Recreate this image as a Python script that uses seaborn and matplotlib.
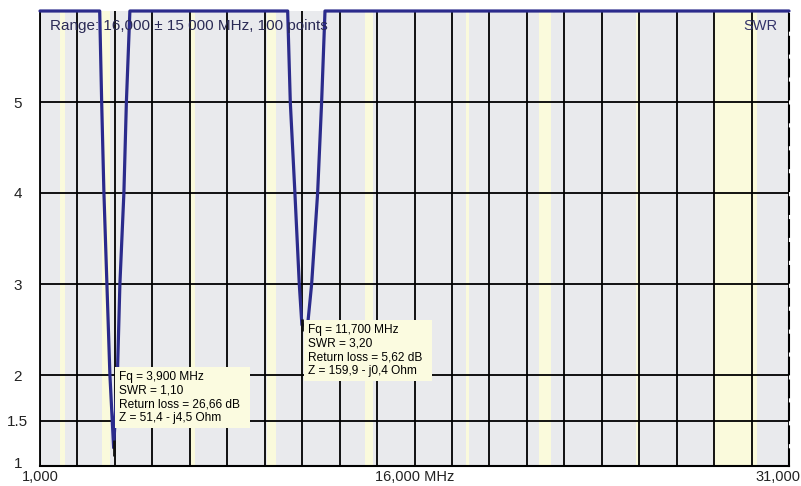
import matplotlib
matplotlib.use("Agg")
import matplotlib.pyplot as plt
import matplotlib.transforms as mtransforms
import numpy as np
import pandas as pd
import seaborn as sns

# ---- data (frequency values as shown on the chart's "MHz" axis) ----
freq = [1000, 3390, 3470, 3560, 3680, 3800, 3950, 4100, 4200, 4360, 4460, 4600,
        10920, 11025, 11210, 11385, 11490, 11720, 11880, 12120, 12280, 12415, 31000]
swr = [6.0, 6.0, 5.0, 4.0, 3.0, 2.0, 1.2, 2.0, 3.0, 4.0, 5.0, 6.0,
       6.0, 5.0, 4.0, 3.0, 2.55, 2.55, 3.0, 4.0, 5.0, 6.0, 6.0]

band_start = [1810, 3500, 7000, 10100, 14000, 18068, 21000, 24890, 28000]
band_end = [2000, 3800, 7200, 10450, 14350, 18168, 21450, 24990, 29700]

y_ticks = [1, 1.5, 2, 3, 4, 5]
y_ticklabels = ["1", "1.5", "2", "3", "4", "5"]
x_ticks = [1000, 16000, 31000]
x_ticklabels = ["1,000", "16,000 MHz", "31,000"]
x_grid_step = 1500

marker1 = ["Fq = 3,900 MHz", "SWR = 1,10", "Return loss = 26,66 dB", "Z = 51,4 - j4,5 Ohm"]
marker2 = ["Fq = 11,700 MHz", "SWR = 3,20", "Return loss = 5,62 dB", "Z = 159,9 - j0,4 Ohm"]
marker1_anchor = (4164, 2.045)
marker2_anchor = (11733, 2.565)

title_text = "Range: 16,000 \u00b1 15 000 MHz, 100 points"
corner_text = "SWR"

# ---- style ----
sns.set_style("white")
plt.rcParams["font.family"] = ["Liberation Sans", "DejaVu Sans"]

W, H = 801, 486
fig = plt.figure(figsize=(W / 100, H / 100), dpi=100)
ax = fig.add_axes([40 / W, 20 / H, (789 - 40) / W, (466 - 11) / H])
ax.set_facecolor("#e9eaed")

for s, e in zip(band_start, band_end):
    ax.axvspan(s, e, color="#fafadc", zorder=0.5, lw=0)

ax.set_xlim(1000, 31000)
ax.set_ylim(1, 6)

ax.set_xticks(x_ticks)
ax.set_xticklabels(x_ticklabels)
ax.set_xticks(np.arange(1000, 31001, x_grid_step), minor=True)
ax.set_yticks(y_ticks)
ax.set_yticklabels(y_ticklabels)

ax.grid(True, which="both", axis="x", color="black", lw=1.3, zorder=1)
ax.grid(True, which="major", axis="y", color="black", lw=1.3, zorder=1)
ax.set_axisbelow(True)

ax.tick_params(axis="both", which="both", length=0)
ax.tick_params(axis="y", pad=16, labelsize=11, labelcolor="#222222")
ax.tick_params(axis="x", pad=3, labelsize=10.5, labelcolor="#222222")
for lab in ax.get_yticklabels():
    lab.set_horizontalalignment("center")
ylabs = ax.get_yticklabels()
ylabs[0].set_transform(ylabs[0].get_transform() +
                       mtransforms.ScaledTranslation(0, 4 / 100, fig.dpi_scale_trans))
xlabs = ax.get_xticklabels()
xlabs[-1].set_transform(xlabs[-1].get_transform() +
                        mtransforms.ScaledTranslation(-11 / 100, 0, fig.dpi_scale_trans))

ax.spines["top"].set_visible(False)
ax.spines["left"].set_color("black")
ax.spines["left"].set_linewidth(1.3)
ax.spines["bottom"].set_color("black")
ax.spines["bottom"].set_linewidth(1.5)
ax.spines["right"].set_color("black")
ax.spines["right"].set_linewidth(1.5)
ax.spines["right"].set_linestyle((0, (8, 3)))

df = pd.DataFrame({"freq": freq, "swr": swr})
sns.lineplot(data=df, x="freq", y="swr", ax=ax, sort=False, estimator=None,
             color="#2b2b8c", lw=2.3, zorder=3, clip_on=False)
ax.set_xlabel("")
ax.set_ylabel("")

# minimum markers
imin1 = int(np.argmin(swr[:12]))
imin2 = 12 + int(np.argmin(swr[12:]))
ax.plot([freq[imin1]], [swr[imin1]], marker="|", ms=12, mew=2, color="#111111", zorder=4)
ax.plot([freq[imin2]], [swr[imin2]], marker="|", ms=8, mew=2, color="#111111", zorder=4)

box = dict(boxstyle="square,pad=0.3", fc="#fbfbe0", ec="none")
for anchor, lines in [(marker1_anchor, marker1), (marker2_anchor, marker2)]:
    txt = "\n".join(lines[:2] + [lines[2] + "  "] + lines[3:])
    ax.text(anchor[0], anchor[1], txt, ha="left", va="top",
            fontsize=8.6, color="black", linespacing=1.2, bbox=box, zorder=5)

ax.text(0.0135, 0.967, title_text, transform=ax.transAxes, ha="left", va="center",
        fontsize=11, color="#2a2a55", zorder=6)
ax.text(0.985, 0.967, corner_text, transform=ax.transAxes, ha="right", va="center",
        fontsize=10.5, color="#33336a", zorder=6)

fig.savefig("out.png", dpi=100)
